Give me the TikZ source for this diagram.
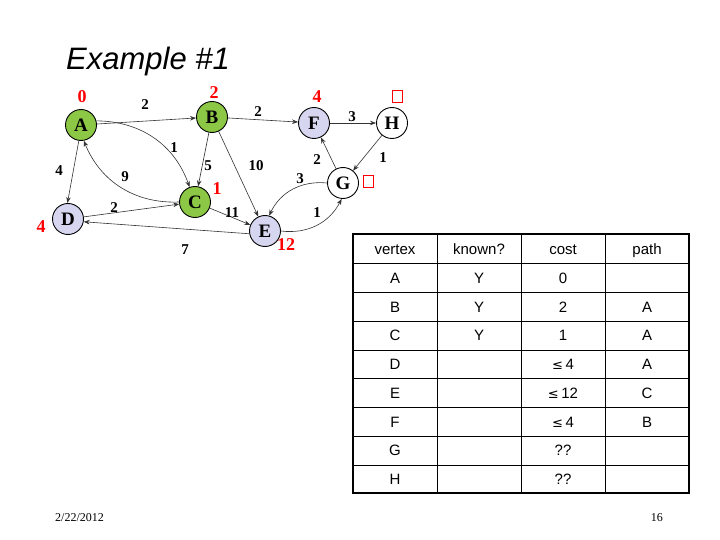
\documentclass[tikz,border=0pt]{standalone}
\usepackage{fontspec}
\setmainfont{Liberation Serif}
\newfontfamily\arialf{Liberation Sans}
\newfontfamily\dejaf{DejaVu Sans}
\usetikzlibrary{arrows.meta}
\definecolor{vgreen}{RGB}{140,200,70}
\definecolor{vlav}{RGB}{214,214,240}
\definecolor{vred}{RGB}{255,0,0}
\begin{document}
\begin{tikzpicture}[x=1pt,y=-1pt,
  vert/.style={circle,draw=black,line width=0.9pt,minimum size=31pt,inner sep=0pt,font=\fontsize{19}{19}\selectfont\bfseries},
  known/.style={vert,fill=vgreen},
  seen/.style={vert,fill=vlav},
  unseen/.style={vert,fill=white},
  edge/.style={draw=black!80,line width=0.6pt,-{Stealth[length=6pt,width=4.5pt]}},
  wlab/.style={font=\fontsize{15}{15}\selectfont\bfseries,inner sep=0pt},
  clab/.style={font=\fontsize{18}{18}\selectfont\bfseries,text=vred,inner sep=0pt},
  inf/.style={draw=vred,line width=0.7pt,minimum width=10pt,minimum height=12pt,inner sep=0pt},
  cell/.style={font=\arialf\fontsize{15}{15}\selectfont,inner sep=0pt,text height=11pt,text depth=0pt}
]
\useasboundingbox (0,0) rectangle (720,540);
% title
\node[anchor=base west,font=\arialf\itshape\fontsize{31}{31}\selectfont,inner sep=0pt] (title) at (66,70) {Example \#1};
% vertices
\node[known] (A) at (81,125) {A};
\node[known] (B) at (212,117) {B};
\node[known] (C) at (195,202) {C};
\node[seen] (D) at (68,219) {D};
\node[seen] (E) at (265,231) {E};
\node[seen] (F) at (314,123) {F};
\node[unseen] (G) at (343,183) {G};
\node[unseen] (H) at (392,123) {H};
% edges
\draw[edge] (A) -- (B);
\draw[edge] (A.15) to[bend left=35] (C.110);
\draw[edge] (A.262) -- (D.92);
\draw[edge] (C.180) to[bend left=35] (A.280);
\draw[edge] (B) -- (C);
\draw[edge] (B) -- (E);
\draw[edge] (B) -- (F);
\draw[edge] (F) -- (H);
\draw[edge] (H) -- (G);
\draw[edge] (G) -- (F);
\draw[edge] (G.180) to[bend right=35] (E.75);
\draw[edge] (E.0) to[bend right=35] (G.265);
\draw[edge] (D) -- (C);
\draw[edge] (C) -- (E);
\draw[edge] (E.190) -- (D.350);
% weights
\node[wlab] (w1) at (145,105) {2};
\node[wlab] (w2) at (174,148) {1};
\node[wlab] (w3) at (59,171) {4};
\node[wlab] (w4) at (125,177) {9};
\node[wlab] (w5) at (208,166) {5};
\node[wlab] (w6) at (256,166) {10};
\node[wlab] (w7) at (258,112) {2};
\node[wlab] (w8) at (352,117) {3};
\node[wlab] (w9) at (383,158) {1};
\node[wlab] (w10) at (317,160) {2};
\node[wlab] (w11) at (300,179) {3};
\node[wlab] (w12) at (317,213) {1};
\node[wlab] (w13) at (114,208) {2};
\node[wlab] (w14) at (232,213) {11};
\node[wlab] (w15) at (185,250) {7};
% costs
\node[clab] (cA) at (82,97) {0};
\node[clab] (cB) at (214,93) {2};
\node[clab] (cC) at (217,189) {1};
\node[clab] (cD) at (41,227) {4};
\node[clab] (cE) at (286,245) {12};
\node[clab] (cF) at (317,97) {4};
\node[inf] (cH) at (397,96) {};
\node[inf] (cG) at (368,181) {};
% table
\foreach \x in {437,521,605} \draw[line width=0.6pt] (\x,234) -- (\x,493);
\foreach \y in {263,292,321,350,378,407,436,465} \draw[line width=0.6pt] (353,\y) -- (689,\y);
\draw[line width=1.8pt] (353,234) rectangle (689,493);
\node[cell] (h1) at (395,249) {vertex};
\node[cell] (h2) at (479,249) {known?};
\node[cell] (h3) at (563,249) {cost};
\node[cell] (h4) at (647,249) {path};
\foreach \r/\v/\k/\c/\p [count=\i] in {A/Y/0/{},B/Y/2/A,C/Y/1/A,D/{}/{{\dejaf\fontsize{13}{13}\selectfont ≤}\,4}/A,E/{}/{{\dejaf\fontsize{13}{13}\selectfont ≤}\,12}/C,F/{}/{{\dejaf\fontsize{13}{13}\selectfont ≤}\,4}/B,G/{}/??/{},H/{}/??/{}}{
  \pgfmathsetmacro{\yy}{249+28.75*\i}
  \node[cell] (r\i a) at (395,\yy) {\r};
  \node[cell] (r\i b) at (479,\yy) {\v};
  \node[cell] (r\i c) at (563,\yy) {\k};
  \node[cell] (r\i d) at (647,\yy) {\p};
}
% footer
\node[anchor=base west,font=\fontsize{12}{12}\selectfont,inner sep=0pt] (date) at (55,521) {2/22/2012};
\node[anchor=base east,font=\fontsize{12}{12}\selectfont,inner sep=0pt] (page) at (663,521) {16};
\end{tikzpicture}
\end{document}
